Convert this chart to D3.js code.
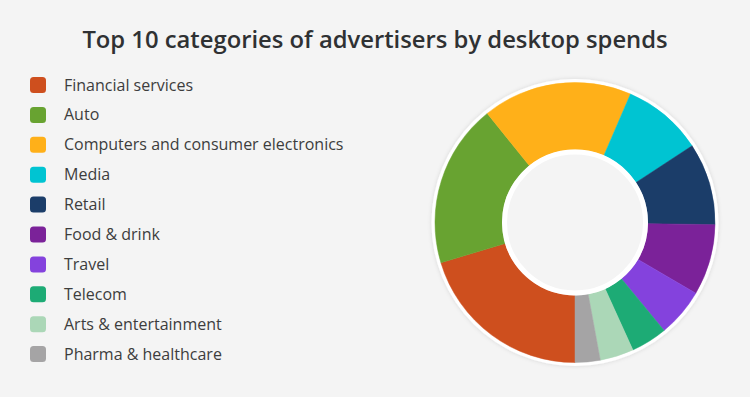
<!DOCTYPE html>
<html>
<head>
<meta charset="utf-8">
<script src="https://cdn.jsdelivr.net/npm/d3@7"></script>
<style>
  html, body { margin: 0; padding: 0; background: #f4f4f4; }
  svg { display: block; font-family: "Open Sans", sans-serif; }
</style>
</head>
<body>
<div id="chart"></div>
<script>
var categories = ["Financial services", "Auto", "Computers and consumer electronics", "Media", "Retail",
    "Food & drink", "Travel", "Telecom", "Arts & entertainment", "Pharma & healthcare"];
var shares = [20.4, 18.9, 17.3, 9.3, 9.5, 8.2, 5.6, 4.2, 3.9, 2.9];
var colors = ["#ce4f1e", "#68a331", "#ffb019", "#00c4d2", "#1b3d69",
    "#7b2299", "#8442dd", "#1dab75", "#abd7b7", "#a5a4a5"];

var width = 750, height = 397;
var svg = d3.select("#chart").append("svg")
    .attr("width", width)
    .attr("height", height);

svg.append("rect").attr("width", width).attr("height", height).attr("fill", "#f4f4f4");

svg.append("text")
    .attr("x", 375)
    .attr("y", 48)
    .attr("text-anchor", "middle")
    .attr("font-size", 23.8)
    .attr("font-weight", 600)
    .attr("fill", "#2f3133")
    .text("Top 10 categories of advertisers by desktop spends");

// legend
var legend = svg.append("g").attr("transform", "translate(30,85)");
var rows = legend.selectAll("g").data(categories).enter().append("g")
    .attr("transform", (d, i) => "translate(0," + (i * 29.9) + ")");
rows.append("rect")
    .attr("x", 0).attr("y", -8)
    .attr("width", 16).attr("height", 16)
    .attr("rx", 3.5)
    .attr("fill", (d, i) => colors[i]);
rows.append("text")
    .attr("x", 34)
    .attr("y", 5.5)
    .attr("font-size", 16)
    .attr("fill", "#3d3d3d")
    .text(d => d);

// donut
var cx = 575, cy = 222.5, outerR = 140, innerR = 73;
var defs = svg.append("defs");
var f = defs.append("filter").attr("id", "shadow").attr("x", "-20%").attr("y", "-20%").attr("width", "140%").attr("height", "140%");
f.append("feDropShadow").attr("dx", 0).attr("dy", 0).attr("stdDeviation", 2)
    .attr("flood-color", "#000").attr("flood-opacity", 0.12);

var g = svg.append("g").attr("transform", "translate(" + cx + "," + cy + ")");
g.append("circle").attr("r", outerR + 3.5).attr("fill", "#fff").attr("filter", "url(#shadow)");

var pie = d3.pie().sort(null).startAngle(Math.PI).endAngle(3 * Math.PI);
var arc = d3.arc().innerRadius(innerR).outerRadius(outerR);

g.selectAll("path")
    .data(pie(shares))
    .enter().append("path")
    .attr("d", arc)
    .attr("fill", (d, i) => colors[i])
    .attr("stroke", (d, i) => colors[i])
    .attr("stroke-width", 0.5);

g.append("circle").attr("r", innerR - 2.5)
    .attr("fill", "#f4f4f4")
    .attr("stroke", "#fff")
    .attr("stroke-width", 5);
</script>
</body>
</html>
